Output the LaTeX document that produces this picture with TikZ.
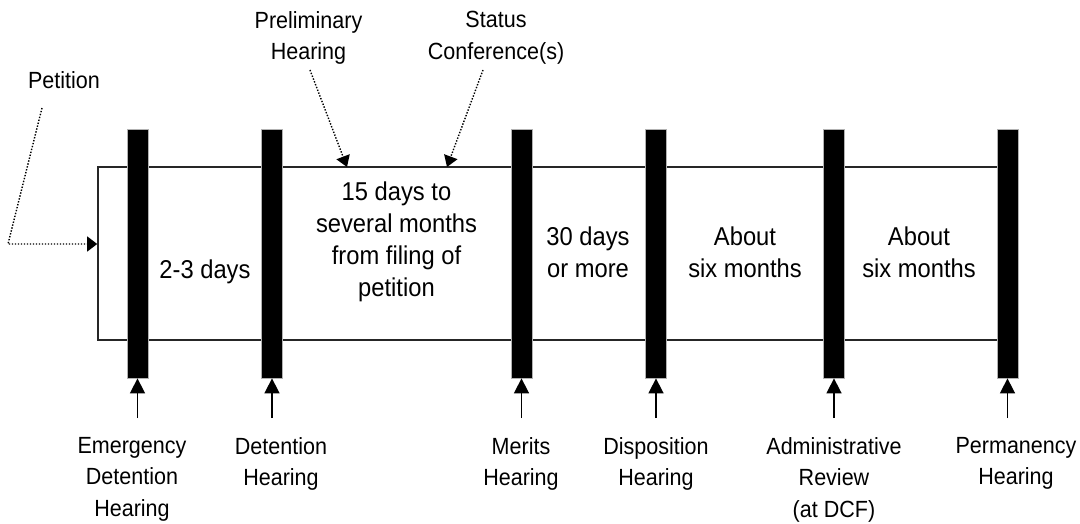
\documentclass[tikz,border=0pt]{standalone}
\usepackage{fontspec}
\setmainfont{Liberation Sans}[FakeStretch=0.92]
\usetikzlibrary{arrows.meta}
\begin{document}
\begin{tikzpicture}[x=1pt,y=-1pt,
  lbl/.style={font=\fontsize{23.4}{31.5}\selectfont, align=center, inner sep=0pt, anchor=north},
  span/.style={font=\fontsize{25.8}{32}\selectfont, align=center, inner sep=0pt, anchor=north},
  bar/.style={fill=black, draw=gray!60, line width=0.8pt, minimum width=21pt, minimum height=249pt, inner sep=0pt},
  mainbox/.style={draw=black!85, line width=1.6pt, minimum width=909pt, minimum height=173pt, inner sep=0pt},
  uparrow/.style={line width=1.6pt, -{Triangle[length=15pt,width=15pt]}},
  dotarrow/.style={line width=1.4pt, dash pattern=on 1.4pt off 1.6pt, -{Triangle[length=11pt,width=14pt]}},
]
\useasboundingbox (0,0) rectangle (1080,524);

% main box
\node[mainbox] (box) at (552.5,253.5) {};

% bars
\node[bar] (b1) at (137.5,253.5) {};
\node[bar] (b2) at (272,253.5) {};
\node[bar] (b3) at (521.5,253.5) {};
\node[bar] (b4) at (656,253.5) {};
\node[bar] (b5) at (834,253.5) {};
\node[bar] (b6) at (1007.5,253.5) {};

% span texts
\node[span] (s1) at (205,260) {2-3 days};
\node[span] (s2) at (396.5,182) {15 days to\\several months\\from filing of\\petition};
\node[span] (s3) at (588,227) {30 days\\or more};
\node[span] (s4) at (745,227) {About\\six months};
\node[span] (s5) at (919,227) {About\\six months};

% top labels
\node[lbl] (pet) at (64,71) {Petition};
\node[lbl] (prel) at (308.5,11) {Preliminary\\Hearing};
\node[lbl] (stat) at (496,11) {Status\\Conference(s)};

% dotted arrows
\coordinate (petA) at (42,108);
\coordinate (petB) at (8,244);
\draw[dotarrow, -{Triangle[length=10pt,width=15pt]}] (petA) -- (petB) -- (petB -| box.west);
\coordinate (prelA) at (310,70);
\coordinate (prelB) at (347,167);
\draw[dotarrow] (prelA) -- (prelB);
\coordinate (statA) at (483,70);
\coordinate (statB) at (447,167);
\draw[dotarrow] (statA) -- (statB);

% bottom arrows
\foreach \i/\x in {1/137.5,2/272,3/521.5,4/656,5/834,6/1007.5}{
  \coordinate (a\i) at (\x,418);
  \draw[uparrow] (a\i) -- (b\i.south);
}

% bottom labels
\node[lbl] (l1) at (132,437) {Emergency\\Detention\\Hearing};
\node[lbl] (l2) at (281,437) {Detention\\Hearing};
\node[lbl] (l3) at (521,437) {Merits\\Hearing};
\node[lbl] (l4) at (656,437) {Disposition\\Hearing};
\node[lbl] (l5) at (834,437) {Administrative\\Review\\(at DCF)};
\node[lbl] (l6) at (1016,437) {Permanency\\Hearing};
\end{tikzpicture}
\end{document}
